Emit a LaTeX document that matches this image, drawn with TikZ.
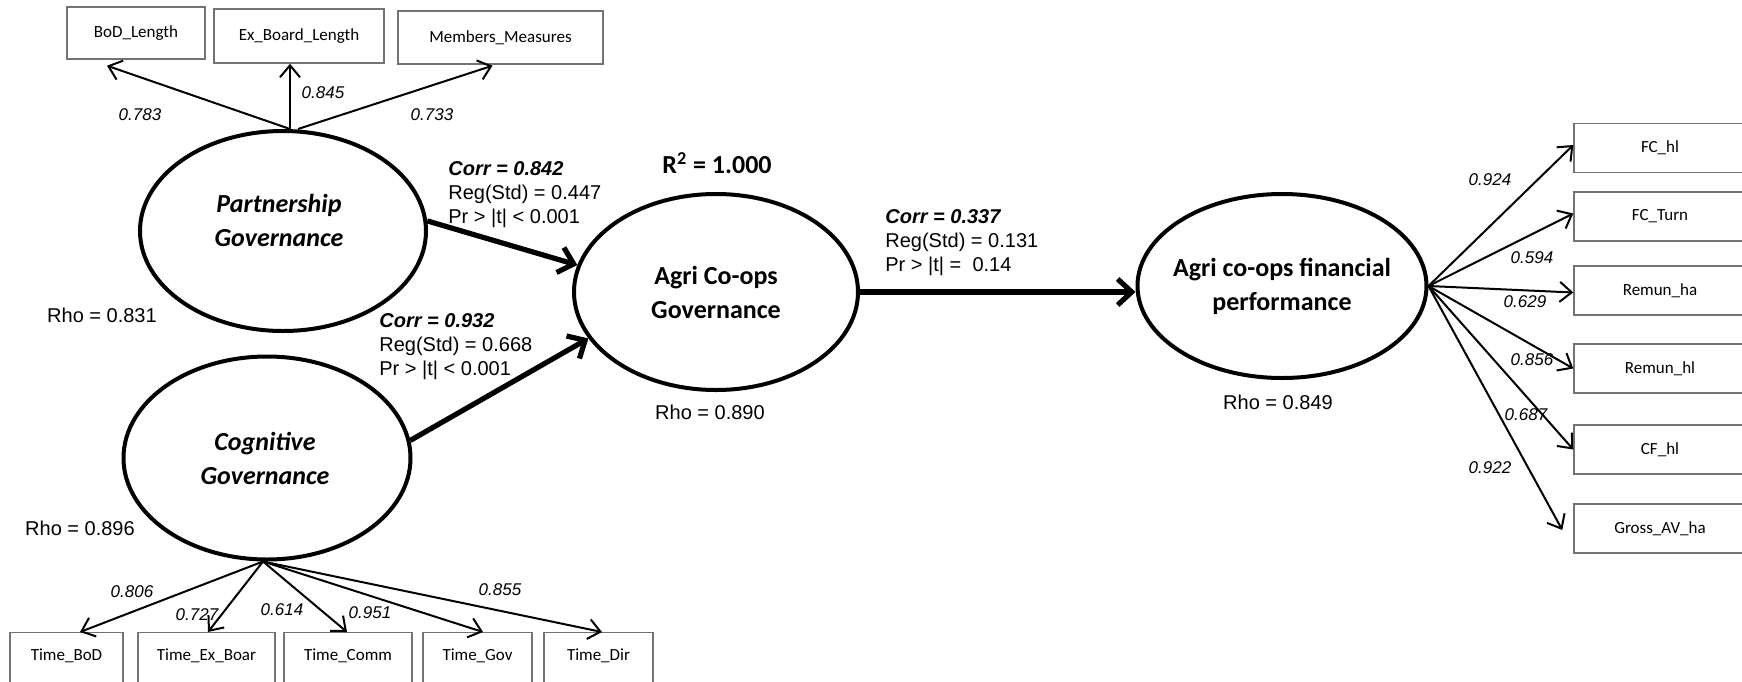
\documentclass[tikz,border=0pt]{standalone}
\usepackage{fontspec}
\setmainfont{Liberation Sans}
\newfontfamily\calibfont{Carlito}
\usetikzlibrary{arrows.meta,shapes.geometric}

\begin{document}
\begin{tikzpicture}[x=0.5pt,y=-0.5pt,
  lat/.style={ellipse, draw, line width=2pt, inner sep=0pt, align=center,
    font=\calibfont\bfseries\fontsize{13}{17}\selectfont},
  lattext/.style={inner sep=0pt, align=center,
    font=\calibfont\bfseries\itshape\fontsize{13}{17}\selectfont},
  ind/.style={draw=black!55, line width=0.7pt, inner sep=0pt,
    font=\calibfont\fontsize{8.5}{10}\selectfont},
  loadarrow/.style={-{Straight Barb[length=6pt,width=10pt]}, line width=1pt},
  regarrow/.style={-{Straight Barb[length=7pt,width=13pt]}, line width=2.6pt},
  num/.style={font=\itshape\fontsize{8.5}{10}\selectfont, inner sep=0pt},
  stat/.style={font=\fontsize{10}{12}\selectfont, inner sep=0pt, align=left, anchor=north west},
  rho/.style={font=\fontsize{10}{12}\selectfont, inner sep=0pt}
]
\useasboundingbox (0,0) rectangle (1742,681);

% latent constructs
\node[lat, minimum width=143pt, minimum height=100pt] (pg) at (283,231) {};
\node[lattext] (pgt) at (279,220) {Partnership\\Governance};
\node[lat, minimum width=143.5pt, minimum height=101.5pt] (cg) at (267,458) {};
\node[lattext] (cgt) at (265,458) {Cognitive\\Governance};
\node[lat, minimum width=142pt, minimum height=98pt] (ag) at (716,292) {Agri Co-ops\\Governance};
\node[lat, minimum width=144.5pt, minimum height=92pt, inner xsep=-6pt] (fp) at (1282,286) {Agri co-ops financial\\performance};

% indicators of partnership governance
\node[ind, minimum width=69pt, minimum height=26pt] (bod) at (136,33) {BoD\_Length};
\node[ind, minimum width=85pt, minimum height=27pt] (exb) at (299,36) {Ex\_Board\_Length};
\node[ind, minimum width=102.5pt, minimum height=26.5pt] (mem) at (500.5,37.5) {Members\_Measures};

% indicators of cognitive governance
\tikzset{lowbox/.style={ind, anchor=north, inner ysep=4pt, text height=10pt, text depth=12pt}}
\node[lowbox, minimum width=56.5pt] (tbod) at (66.5,632) {Time\_BoD};
\node[lowbox, minimum width=68.5pt] (tex) at (206.5,632) {Time\_Ex\_Boar};
\node[lowbox, minimum width=64pt] (tcom) at (348,632) {Time\_Comm};
\node[lowbox, minimum width=54.5pt] (tgov) at (477.5,632) {Time\_Gov};
\node[lowbox, minimum width=54.5pt] (tdir) at (598.5,632) {Time\_Dir};

% indicators of financial performance
\tikzset{rbox/.style={ind, minimum width=86pt, minimum height=24.5pt}}
\node[rbox] (fc1) at (1660,148) {FC\_hl};
\node[rbox] (fc2) at (1660,216.5) {FC\_Turn};
\node[rbox] (rha) at (1660,290.5) {Remun\_ha};
\node[rbox] (rhl) at (1660,368.5) {Remun\_hl};
\node[rbox] (cf) at (1660,449.5) {CF\_hl};
\node[rbox] (gav) at (1660,528.5) {Gross\_AV\_ha};

% loadings of partnership governance
\draw[loadarrow] ([shift={(7,0)}]pg.north) -- ([shift={(-29,6)}]bod.south);
\draw[loadarrow] ([shift={(7,0)}]pg.north) -- ([shift={(-9,0)}]exb.south);
\draw[loadarrow] ([shift={(15,0)}]pg.north) -- ([shift={(-8,1)}]mem.south);
\node[num] (l1) at (140,115) {0.783};
\node[num] (l2) at (323,93) {0.845};
\node[num] (l3) at (432,115) {0.733};

% loadings of cognitive governance
\coordinate (cgo) at ([shift={(-4,0)}]cg.south);
\draw[loadarrow] (cgo) -- ([shift={(13.5,0)}]tbod.north);
\draw[loadarrow] (cgo) -- ([shift={(1.5,0)}]tex.north);
\draw[loadarrow] (cgo) -- ([shift={(-1,0)}]tcom.north);
\draw[loadarrow] (cgo) -- ([shift={(5.5,0)}]tgov.north);
\draw[loadarrow] (cgo) -- ([shift={(3.5,0)}]tdir.north);
\node[num] (l4) at (132,592) {0.806};
\node[num] (l5) at (197,615) {0.727};
\node[num] (l6) at (282,610) {0.614};
\node[num] (l7) at (370,613) {0.951};
\node[num] (l8) at (500,590) {0.855};

% loadings of financial performance
\draw[loadarrow] (fp.east) -- ([shift={(0,-3)}]fc1.west);
\draw[loadarrow] (fp.east) -- ([shift={(0,-3)}]fc2.west);
\draw[loadarrow] (fp.east) -- ([shift={(0,2)}]rha.west);
\draw[loadarrow] (fp.east) -- (rhl.west);
\draw[loadarrow] (fp.east) -- (cf.west);
\draw[loadarrow] (fp.east) -- ([shift={(-11,1.5)}]gav.west);
\node[num] (l9) at (1490,180) {0.924};
\node[num] (l10) at (1532,258) {0.594};
\node[num] (l11) at (1525,302) {0.629};
\node[num] (l12) at (1532,360) {0.856};
\node[num] (l13) at (1526,415) {0.687};
\node[num] (l14) at (1490,468) {0.922};

% structural paths
\draw[regarrow] (pg.4) -- (ag.169);
\draw[regarrow] (cg.7) -- (ag.200);
\draw[regarrow] (ag.east) -- (ag.east -| fp.west);

\node[stat] (s1) at (448,161) {\textbf{\textit{Corr = 0.842}}\\Reg(Std) = 0.447\\Pr > |t| < 0.001};
\node[stat] (s2) at (379,313) {\textbf{\textit{Corr = 0.932}}\\Reg(Std) = 0.668\\Pr > |t| < 0.001};
\node[stat] (s3) at (885,209) {\textbf{\textit{Corr = 0.337}}\\Reg(Std) = 0.131\\Pr > |t| = \ 0.14};

% reliabilities and explained variance
\node[rho] (rho1) at (102,315) {Rho = 0.831};
\node[rho] (rho2) at (80,528) {Rho = 0.896};
\node[rho] (rho3) at (710,412) {Rho = 0.890};
\node[rho] (rho4) at (1278,402) {Rho = 0.849};
\node[font=\calibfont\bfseries\fontsize{13}{15}\selectfont, inner sep=0pt] (r2) at (717,163) {R\textsuperscript{2} = 1.000};
\end{tikzpicture}
\end{document}
